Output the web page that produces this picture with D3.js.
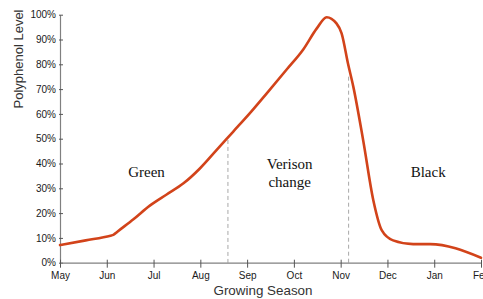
<!DOCTYPE html>
<html>
<head>
<meta charset="utf-8">
<script src="https://cdn.jsdelivr.net/npm/d3@7"></script>
<style>
  html, body { margin: 0; padding: 0; background: #fff; }
  svg { display: block; }
</style>
</head>
<body>
<svg id="chart" width="483" height="299"></svg>
<script>
// ---- data ----
const months = ["May", "Jun", "Jul", "Aug", "Sep", "Oct", "Nov", "Dec", "Jan", "Feb"];
const yTicks = [0, 10, 20, 30, 40, 50, 60, 70, 80, 90, 100];
// position in months since May 1, polyphenol level (%)
const seasonPos = [0, 0.55, 1.08, 1.14, 1.22, 1.57, 1.92, 2.28, 2.64, 2.99, 3.35, 3.70, 4.06, 4.42, 4.85, 5.20, 5.49, 5.70, 5.91, 6.02, 6.16, 6.27, 6.48, 6.70, 6.88, 7.12, 7.55, 7.91, 9.0];
const polyphenol = [7.1, 9.0, 10.9, 11.2, 12.4, 17.5, 23, 27.5, 32, 38, 45.5, 52.8, 60.3, 68.3, 78, 86, 94.5, 99, 96.5, 92.5, 80, 71, 49.5, 25, 13, 9, 7.5, 7.5, 2];
const phaseBounds = [3.59, 6.17];
const phaseBoundTop = [49.5, 75];
const phaseNames = [["Green"], ["Verison", "change"], ["Black"]];

// ---- chart ----
const svg = d3.select("#chart");
const x = d3.scaleLinear().domain([0, 9]).range([60, 481]);
const y = d3.scaleLinear().domain([0, 100]).range([262.7, 14.7]);

const axisColor = "#808080";
const textColor = "#1a1a1a";

// dashed phase boundaries
svg.selectAll("line.phase")
  .data(phaseBounds)
  .enter().append("line")
  .attr("class", "phase")
  .attr("x1", d => x(d)).attr("x2", d => x(d))
  .attr("y1", (d, i) => y(phaseBoundTop[i]))
  .attr("y2", y(0))
  .attr("stroke", "#a8a8a8")
  .attr("stroke-width", 1)
  .attr("stroke-dasharray", "4,3");

// y axis
const yAxis = d3.axisLeft(y)
  .tickValues(yTicks)
  .tickFormat(d => d + "%")
  .tickSizeInner(-3)
  .tickSizeOuter(0)
  .tickPadding(4);
const gy = svg.append("g").attr("transform", "translate(60,0)").call(yAxis);
gy.select(".domain").attr("stroke", axisColor).attr("stroke-width", 1.2);
gy.selectAll(".tick line").attr("stroke", "#555").attr("x1", -1);
gy.selectAll(".tick text")
  .attr("font-family", "Liberation Sans, Arial, sans-serif")
  .attr("font-size", 10).attr("fill", textColor);

// x axis
const xAxis = d3.axisBottom(x)
  .tickValues(d3.range(months.length))
  .tickFormat(i => months[i])
  .tickSizeInner(5)
  .tickSizeOuter(0)
  .tickPadding(4.7);
const gx = svg.append("g").attr("transform", `translate(0,${y(0)})`).call(xAxis);
gx.select(".domain").attr("stroke", axisColor).attr("stroke-width", 1.2);
gx.selectAll(".tick line").attr("stroke", "#555").attr("y1", -3);
gx.selectAll(".tick text")
  .attr("font-family", "Liberation Sans, Arial, sans-serif")
  .attr("font-size", 10).attr("fill", textColor);

// curve
const line = d3.line()
  .x((d, i) => x(seasonPos[i]))
  .y(d => y(d))
  .curve(d3.curveMonotoneX);
svg.append("path")
  .datum(polyphenol)
  .attr("d", line)
  .attr("fill", "none")
  .attr("stroke", "#d2431a")
  .attr("stroke-width", 2.6)
  .attr("stroke-linejoin", "round")
  .attr("stroke-linecap", "round");

// phase labels
const labelPos = [[1.85, 176.7], [4.91, 169.3], [7.87, 177.3]];
phaseNames.forEach((lines, i) => {
  const t = svg.append("text")
    .attr("x", x(labelPos[i][0]))
    .attr("y", labelPos[i][1])
    .attr("text-anchor", "middle")
    .attr("font-family", "Liberation Serif, Times New Roman, serif")
    .attr("font-size", 15)
    .attr("fill", "#111");
  lines.forEach((s, j) => {
    t.append("tspan").attr("x", x(labelPos[i][0])).attr("dy", j === 0 ? 0 : 17.4).text(s);
  });
});

// axis titles
svg.append("text")
  .attr("transform", "translate(23,59) rotate(-90)")
  .attr("text-anchor", "middle")
  .attr("font-family", "Liberation Sans, Arial, sans-serif")
  .attr("font-size", 13)
  .attr("fill", "#333")
  .text("Polyphenol Level");
svg.append("text")
  .attr("x", 263).attr("y", 295)
  .attr("text-anchor", "middle")
  .attr("font-family", "Liberation Sans, Arial, sans-serif")
  .attr("font-size", 13.4)
  .attr("fill", "#333")
  .text("Growing Season");
</script>
</body>
</html>
